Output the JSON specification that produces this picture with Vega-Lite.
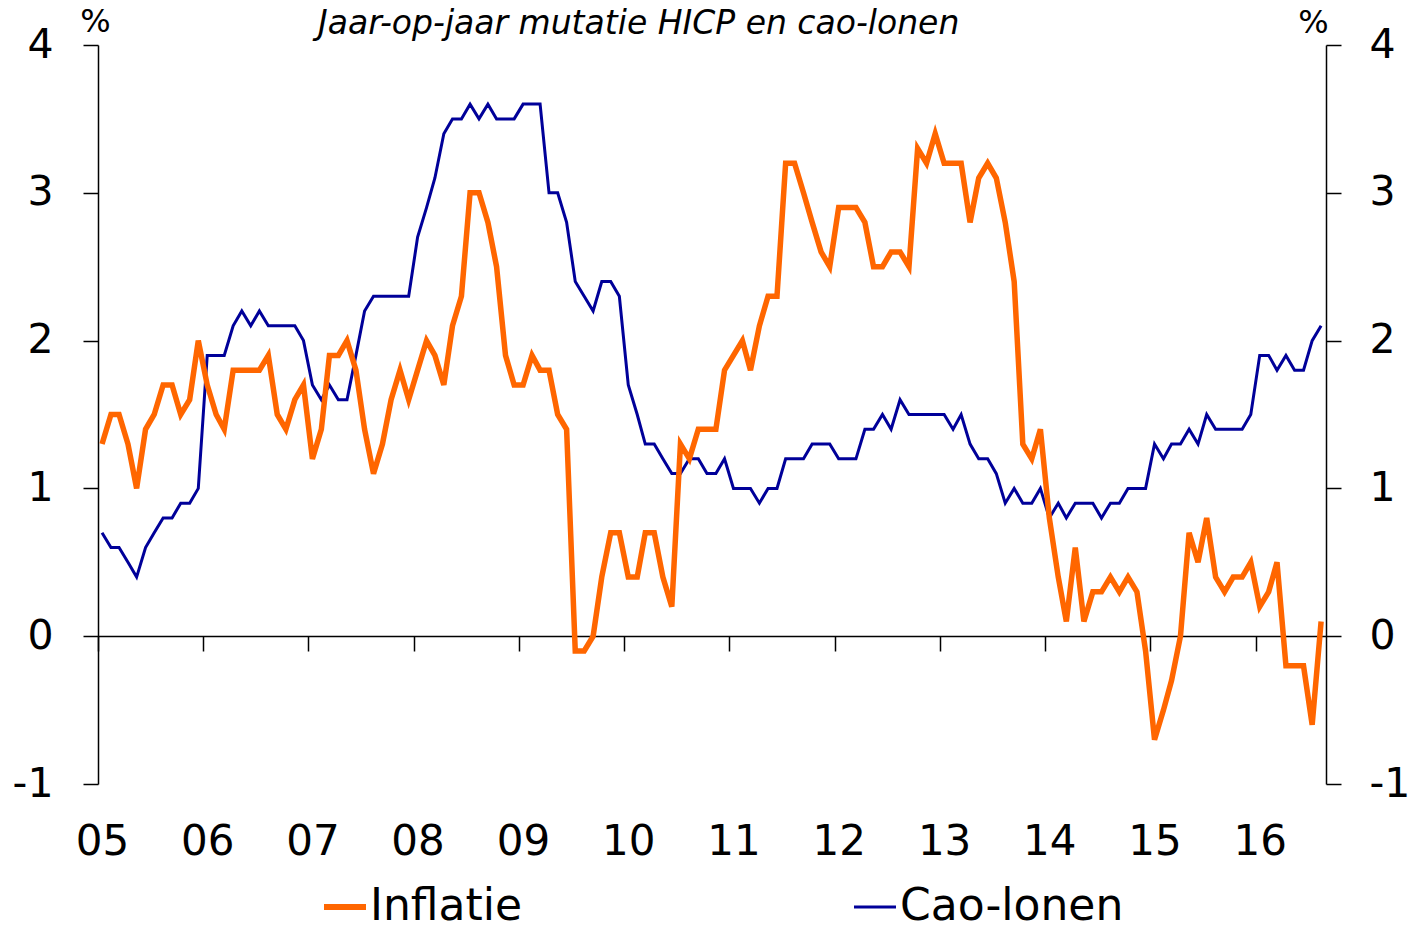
{
  "$schema": "https://vega.github.io/schema/vega-lite/v6.json",
  "width": 1228,
  "height": 739,
  "autosize": "none",
  "padding": {"left": 98, "top": 45, "right": 90, "bottom": 145},
  "background": "white",
  "config": {
    "view": {"stroke": null},
    "font": "DejaVu Sans",
    "axis": {"grid": false, "domainColor": "black", "tickColor": "black", "labelColor": "black", "labelFont": "DejaVu Sans", "titleFont": "DejaVu Sans", "titleColor": "black"}
  },
  "title": {"text": "Jaar-op-jaar mutatie HICP en cao-lonen", "fontStyle": "italic", "fontWeight": "normal", "fontSize": 33, "font": "DejaVu Sans", "anchor": "start", "frame": "group", "dx": 220, "offset": -62, "baseline": "alphabetic", "color": "black"},
  "data": {"values": [
    {"t":"2005-01-15","inflatie":1.3,"cao":0.7},{"t":"2005-02-15","inflatie":1.5,"cao":0.6},{"t":"2005-03-15","inflatie":1.5,"cao":0.6},{"t":"2005-04-15","inflatie":1.3,"cao":0.5},{"t":"2005-05-15","inflatie":1.0,"cao":0.4},{"t":"2005-06-15","inflatie":1.4,"cao":0.6},{"t":"2005-07-15","inflatie":1.5,"cao":0.7},{"t":"2005-08-15","inflatie":1.7,"cao":0.8},{"t":"2005-09-15","inflatie":1.7,"cao":0.8},{"t":"2005-10-15","inflatie":1.5,"cao":0.9},{"t":"2005-11-15","inflatie":1.6,"cao":0.9},{"t":"2005-12-15","inflatie":2.0,"cao":1.0},
    {"t":"2006-01-15","inflatie":1.7,"cao":1.9},{"t":"2006-02-15","inflatie":1.5,"cao":1.9},{"t":"2006-03-15","inflatie":1.4,"cao":1.9},{"t":"2006-04-15","inflatie":1.8,"cao":2.1},{"t":"2006-05-15","inflatie":1.8,"cao":2.2},{"t":"2006-06-15","inflatie":1.8,"cao":2.1},{"t":"2006-07-15","inflatie":1.8,"cao":2.2},{"t":"2006-08-15","inflatie":1.9,"cao":2.1},{"t":"2006-09-15","inflatie":1.5,"cao":2.1},{"t":"2006-10-15","inflatie":1.4,"cao":2.1},{"t":"2006-11-15","inflatie":1.6,"cao":2.1},{"t":"2006-12-15","inflatie":1.7,"cao":2.0},
    {"t":"2007-01-15","inflatie":1.2,"cao":1.7},{"t":"2007-02-15","inflatie":1.4,"cao":1.6},{"t":"2007-03-15","inflatie":1.9,"cao":1.7},{"t":"2007-04-15","inflatie":1.9,"cao":1.6},{"t":"2007-05-15","inflatie":2.0,"cao":1.6},{"t":"2007-06-15","inflatie":1.8,"cao":1.9},{"t":"2007-07-15","inflatie":1.4,"cao":2.2},{"t":"2007-08-15","inflatie":1.1,"cao":2.3},{"t":"2007-09-15","inflatie":1.3,"cao":2.3},{"t":"2007-10-15","inflatie":1.6,"cao":2.3},{"t":"2007-11-15","inflatie":1.8,"cao":2.3},{"t":"2007-12-15","inflatie":1.6,"cao":2.3},
    {"t":"2008-01-15","inflatie":1.8,"cao":2.7},{"t":"2008-02-15","inflatie":2.0,"cao":2.9},{"t":"2008-03-15","inflatie":1.9,"cao":3.1},{"t":"2008-04-15","inflatie":1.7,"cao":3.4},{"t":"2008-05-15","inflatie":2.1,"cao":3.5},{"t":"2008-06-15","inflatie":2.3,"cao":3.5},{"t":"2008-07-15","inflatie":3.0,"cao":3.6},{"t":"2008-08-15","inflatie":3.0,"cao":3.5},{"t":"2008-09-15","inflatie":2.8,"cao":3.6},{"t":"2008-10-15","inflatie":2.5,"cao":3.5},{"t":"2008-11-15","inflatie":1.9,"cao":3.5},{"t":"2008-12-15","inflatie":1.7,"cao":3.5},
    {"t":"2009-01-15","inflatie":1.7,"cao":3.6},{"t":"2009-02-15","inflatie":1.9,"cao":3.6},{"t":"2009-03-15","inflatie":1.8,"cao":3.6},{"t":"2009-04-15","inflatie":1.8,"cao":3.0},{"t":"2009-05-15","inflatie":1.5,"cao":3.0},{"t":"2009-06-15","inflatie":1.4,"cao":2.8},{"t":"2009-07-15","inflatie":-0.1,"cao":2.4},{"t":"2009-08-15","inflatie":-0.1,"cao":2.3},{"t":"2009-09-15","inflatie":0.0,"cao":2.2},{"t":"2009-10-15","inflatie":0.4,"cao":2.4},{"t":"2009-11-15","inflatie":0.7,"cao":2.4},{"t":"2009-12-15","inflatie":0.7,"cao":2.3},
    {"t":"2010-01-15","inflatie":0.4,"cao":1.7},{"t":"2010-02-15","inflatie":0.4,"cao":1.5},{"t":"2010-03-15","inflatie":0.7,"cao":1.3},{"t":"2010-04-15","inflatie":0.7,"cao":1.3},{"t":"2010-05-15","inflatie":0.4,"cao":1.2},{"t":"2010-06-15","inflatie":0.2,"cao":1.1},{"t":"2010-07-15","inflatie":1.3,"cao":1.1},{"t":"2010-08-15","inflatie":1.2,"cao":1.2},{"t":"2010-09-15","inflatie":1.4,"cao":1.2},{"t":"2010-10-15","inflatie":1.4,"cao":1.1},{"t":"2010-11-15","inflatie":1.4,"cao":1.1},{"t":"2010-12-15","inflatie":1.8,"cao":1.2},
    {"t":"2011-01-15","inflatie":1.9,"cao":1.0},{"t":"2011-02-15","inflatie":2.0,"cao":1.0},{"t":"2011-03-15","inflatie":1.8,"cao":1.0},{"t":"2011-04-15","inflatie":2.1,"cao":0.9},{"t":"2011-05-15","inflatie":2.3,"cao":1.0},{"t":"2011-06-15","inflatie":2.3,"cao":1.0},{"t":"2011-07-15","inflatie":3.2,"cao":1.2},{"t":"2011-08-15","inflatie":3.2,"cao":1.2},{"t":"2011-09-15","inflatie":3.0,"cao":1.2},{"t":"2011-10-15","inflatie":2.8,"cao":1.3},{"t":"2011-11-15","inflatie":2.6,"cao":1.3},{"t":"2011-12-15","inflatie":2.5,"cao":1.3},
    {"t":"2012-01-15","inflatie":2.9,"cao":1.2},{"t":"2012-02-15","inflatie":2.9,"cao":1.2},{"t":"2012-03-15","inflatie":2.9,"cao":1.2},{"t":"2012-04-15","inflatie":2.8,"cao":1.4},{"t":"2012-05-15","inflatie":2.5,"cao":1.4},{"t":"2012-06-15","inflatie":2.5,"cao":1.5},{"t":"2012-07-15","inflatie":2.6,"cao":1.4},{"t":"2012-08-15","inflatie":2.6,"cao":1.6},{"t":"2012-09-15","inflatie":2.5,"cao":1.5},{"t":"2012-10-15","inflatie":3.3,"cao":1.5},{"t":"2012-11-15","inflatie":3.2,"cao":1.5},{"t":"2012-12-15","inflatie":3.4,"cao":1.5},
    {"t":"2013-01-15","inflatie":3.2,"cao":1.5},{"t":"2013-02-15","inflatie":3.2,"cao":1.4},{"t":"2013-03-15","inflatie":3.2,"cao":1.5},{"t":"2013-04-15","inflatie":2.8,"cao":1.3},{"t":"2013-05-15","inflatie":3.1,"cao":1.2},{"t":"2013-06-15","inflatie":3.2,"cao":1.2},{"t":"2013-07-15","inflatie":3.1,"cao":1.1},{"t":"2013-08-15","inflatie":2.8,"cao":0.9},{"t":"2013-09-15","inflatie":2.4,"cao":1.0},{"t":"2013-10-15","inflatie":1.3,"cao":0.9},{"t":"2013-11-15","inflatie":1.2,"cao":0.9},{"t":"2013-12-15","inflatie":1.4,"cao":1.0},
    {"t":"2014-01-15","inflatie":0.8,"cao":0.8},{"t":"2014-02-15","inflatie":0.4,"cao":0.9},{"t":"2014-03-15","inflatie":0.1,"cao":0.8},{"t":"2014-04-15","inflatie":0.6,"cao":0.9},{"t":"2014-05-15","inflatie":0.1,"cao":0.9},{"t":"2014-06-15","inflatie":0.3,"cao":0.9},{"t":"2014-07-15","inflatie":0.3,"cao":0.8},{"t":"2014-08-15","inflatie":0.4,"cao":0.9},{"t":"2014-09-15","inflatie":0.3,"cao":0.9},{"t":"2014-10-15","inflatie":0.4,"cao":1.0},{"t":"2014-11-15","inflatie":0.3,"cao":1.0},{"t":"2014-12-15","inflatie":-0.1,"cao":1.0},
    {"t":"2015-01-15","inflatie":-0.7,"cao":1.3},{"t":"2015-02-15","inflatie":-0.5,"cao":1.2},{"t":"2015-03-15","inflatie":-0.3,"cao":1.3},{"t":"2015-04-15","inflatie":0.0,"cao":1.3},{"t":"2015-05-15","inflatie":0.7,"cao":1.4},{"t":"2015-06-15","inflatie":0.5,"cao":1.3},{"t":"2015-07-15","inflatie":0.8,"cao":1.5},{"t":"2015-08-15","inflatie":0.4,"cao":1.4},{"t":"2015-09-15","inflatie":0.3,"cao":1.4},{"t":"2015-10-15","inflatie":0.4,"cao":1.4},{"t":"2015-11-15","inflatie":0.4,"cao":1.4},{"t":"2015-12-15","inflatie":0.5,"cao":1.5},
    {"t":"2016-01-15","inflatie":0.2,"cao":1.9},{"t":"2016-02-15","inflatie":0.3,"cao":1.9},{"t":"2016-03-15","inflatie":0.5,"cao":1.8},{"t":"2016-04-15","inflatie":-0.2,"cao":1.9},{"t":"2016-05-15","inflatie":-0.2,"cao":1.8},{"t":"2016-06-15","inflatie":-0.2,"cao":1.8},{"t":"2016-07-15","inflatie":-0.6,"cao":2.0},{"t":"2016-08-15","inflatie":0.1,"cao":2.1}
  ]},
  "encoding": {
    "x": {
      "field": "t", "type": "temporal",
      "scale": {"type": "utc", "domain": [{"year": 2005, "month": 1, "date": 1, "utc": true}, {"year": 2016, "month": 9, "date": 1, "utc": true}]},
      "axis": {
        "title": null, "format": "%y", "offset": -148, "tickSize": 15, "labelFontSize": 42, "labelPadding": 170, "labelOffset": 4,
        "labelFlush": false, "labelOverlap": false, "domainWidth": 1.5, "tickWidth": 1.5,
        "values": [
          {"year": 2005, "month": 1, "date": 1, "utc": true}, {"year": 2006, "month": 1, "date": 1, "utc": true}, {"year": 2007, "month": 1, "date": 1, "utc": true}, {"year": 2008, "month": 1, "date": 1, "utc": true},
          {"year": 2009, "month": 1, "date": 1, "utc": true}, {"year": 2010, "month": 1, "date": 1, "utc": true}, {"year": 2011, "month": 1, "date": 1, "utc": true}, {"year": 2012, "month": 1, "date": 1, "utc": true},
          {"year": 2013, "month": 1, "date": 1, "utc": true}, {"year": 2014, "month": 1, "date": 1, "utc": true}, {"year": 2015, "month": 1, "date": 1, "utc": true}, {"year": 2016, "month": 1, "date": 1, "utc": true}
        ]
      }
    }
  },
  "layer": [
    {
      "mark": {"type": "line", "strokeWidth": 3, "strokeJoin": "miter", "strokeMiterLimit": 4},
      "encoding": {
        "y": {
          "field": "cao", "type": "quantitative",
          "scale": {"domain": [-1, 4], "nice": false, "zero": false},
          "axis": {"orient": "left", "values": [-1, 0, 1, 2, 3, 4], "tickSize": 15, "labelFontSize": 41, "labelPadding": 30, "labelExpr": "replace(datum.label, '−', '-')", "title": "%", "titleAngle": 0, "titleX": -3, "titleY": -24, "titleFontSize": 32, "titleFontWeight": "normal", "titleAlign": "center", "titleBaseline": "middle", "domainWidth": 1.5, "tickWidth": 1.5}
        },
        "color": {
          "datum": "Cao-lonen", "type": "nominal",
          "scale": {"domain": ["Inflatie", "Cao-lonen"], "range": ["#ff6600", "#000099"]},
          "legend": {"orient": "none", "legendX": 225, "legendY": 840, "direction": "horizontal", "title": null, "symbolType": "stroke", "symbolSize": 1764, "labelFontSize": 44, "labelOffset": 3, "columnPadding": 325, "padding": 0, "labelColor": "black", "labelFont": "DejaVu Sans", "labelLimit": 500,
            "encode": {"symbols": {"update": {"strokeWidth": {"signal": "datum.value === 'Inflatie' ? 6 : 3"}}}}}
        }
      }
    },
    {
      "mark": {"type": "line", "strokeWidth": 5.5, "strokeJoin": "miter", "strokeMiterLimit": 4},
      "encoding": {
        "y": {
          "field": "inflatie", "type": "quantitative",
          "scale": {"domain": [-1, 4], "nice": false, "zero": false},
          "axis": {"orient": "right", "values": [-1, 0, 1, 2, 3, 4], "tickSize": 15, "labelFontSize": 41, "labelPadding": 28, "labelExpr": "replace(datum.label, '−', '-')", "title": "%", "titleAngle": 0, "titleX": -13, "titleY": -23, "titleFontSize": 32, "titleFontWeight": "normal", "titleAlign": "center", "titleBaseline": "middle", "domainWidth": 1.5, "tickWidth": 1.5}
        },
        "color": {
          "datum": "Inflatie", "type": "nominal",
          "scale": {"domain": ["Inflatie", "Cao-lonen"], "range": ["#ff6600", "#000099"]},
          "legend": {"orient": "none", "legendX": 225, "legendY": 840, "direction": "horizontal", "title": null, "symbolType": "stroke", "symbolSize": 1764, "labelFontSize": 44, "labelOffset": 3, "columnPadding": 325, "padding": 0, "labelColor": "black", "labelFont": "DejaVu Sans", "labelLimit": 500,
            "encode": {"symbols": {"update": {"strokeWidth": {"signal": "datum.value === 'Inflatie' ? 6 : 3"}}}}}
        }
      }
    }
  ],
  "resolve": {"axis": {"y": "independent"}}
}
